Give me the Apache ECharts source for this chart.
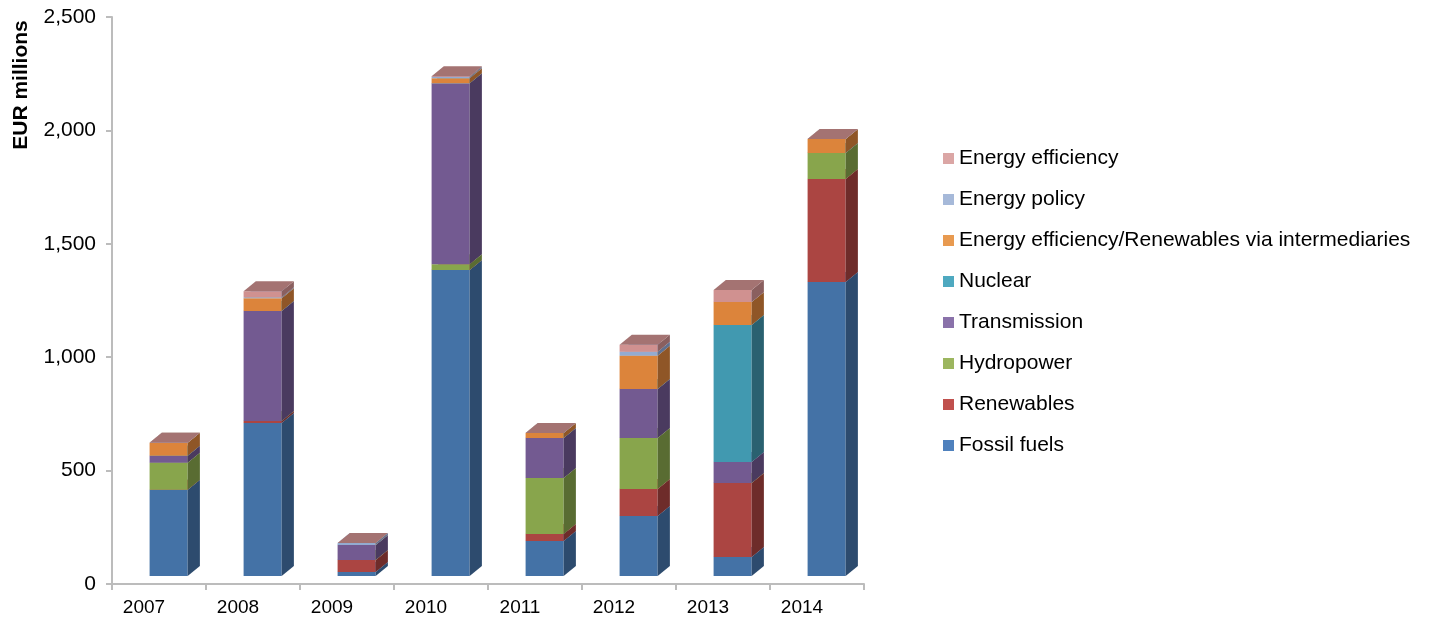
<!DOCTYPE html>
<html>
<head>
<meta charset="utf-8">
<script src="https://cdn.jsdelivr.net/npm/echarts@6/dist/echarts.min.js"></script>
<style>
html,body{margin:0;padding:0;background:#fff;}
#chart{width:1437px;height:623px;}
</style>
</head>
<body>
<div id="chart"></div>
<script>
// ---- Data (EUR millions) ----
const categories = ['2007','2008','2009','2010','2011','2012','2013','2014'];
const fossilFuels     = [380, 675, 18, 1349, 154, 265, 84, 1296];
const renewables      = [0, 8, 53, 0, 31, 119, 326, 454];
const hydropower      = [119, 0, 0, 26, 247, 225, 0, 115];
const transmission    = [31, 485, 66, 798, 176, 216, 93, 0];
const nuclear         = [0, 0, 0, 0, 0, 0, 604, 0];
const eeRenewIntermed = [57, 57, 0, 22, 22, 146, 101, 62];
const energyPolicy    = [0, 4, 9, 5, 0, 18, 0, 0];
const energyEff       = [0, 26, 0, 4, 0, 31, 53, 0];
const yTicks = [0, 500, 1000, 1500, 2000, 2500];

const seriesDefs = [
  {name:'Fossil fuels', data:fossilFuels, legend:'#4f81bd', front:'#4472a6', side:'#2d4b6e', top:'#5a86bb'},
  {name:'Renewables', data:renewables, legend:'#c0504d', front:'#ab4542', side:'#6e2c2a', top:'#c05a57'},
  {name:'Hydropower', data:hydropower, legend:'#9cb65f', front:'#88a54c', side:'#596c32', top:'#9dbb5e'},
  {name:'Transmission', data:transmission, legend:'#8a72aa', front:'#735a91', side:'#4a3a5f', top:'#8770a5'},
  {name:'Nuclear', data:nuclear, legend:'#4ea9c0', front:'#4199b0', side:'#2a6170', top:'#56aec5'},
  {name:'Energy efficiency/Renewables via intermediaries', data:eeRenewIntermed, legend:'#e89a50', front:'#dc843b', side:'#8f5627', top:'#e99a55'},
  {name:'Energy policy', data:energyPolicy, legend:'#a6b9d9', front:'#93abd1', side:'#5f7090', top:'#a7bde0'},
  {name:'Energy efficiency', data:energyEff, legend:'#dba6a5', front:'#d09190', side:'#8a5f5f', top:'#a47372'}
];

const FONT = '"Liberation Sans", Arial, sans-serif';
const base = categories.map(() => 0);

function makeRender(def) {
  return function (params, api) {
    const i = api.value(0), b = api.value(1), t = api.value(2);
    const band = api.size([1, 0])[0];
    const p0 = api.coord([i, b]);
    const p1 = api.coord([i, t]);
    const w = band * 0.405;
    const L = p0[0] - band * 0.1;
    const R = L + w;
    const lift = 8;
    const yB = p0[1] - lift, yT = p1[1] - lift;
    const dx = band * 0.13, dy = 10;
    const children = [];
    if (yB - yT > 0.01) {
      children.push({type:'rect', shape:{x:L, y:yT, width:w, height:yB - yT}, style:{fill:def.front}});
      children.push({type:'polygon', shape:{points:[[R,yB],[R+dx,yB-dy],[R+dx,yT-dy],[R,yT]]}, style:{fill:def.side}});
    }
    children.push({type:'polygon', shape:{points:[[L,yT],[L+dx,yT-dy],[R+dx,yT-dy],[R,yT]]}, style:{fill:def.top}});
    return {type:'group', children};
  };
}

const series = seriesDefs.map(def => {
  const data = def.data.map((v, i) => {
    const item = [i, base[i], base[i] + v];
    base[i] += v;
    return item;
  });
  return {
    type:'custom', name:def.name, data, clip:false,
    encode:{x:0, y:[1,2]},
    itemStyle:{color:def.legend},
    renderItem: makeRender(def)
  };
});

const chart = echarts.init(document.getElementById('chart'));
chart.setOption({
  animation:false,
  backgroundColor:'#fff',
  textStyle:{fontFamily:FONT},
  grid:{left:112, right:573, top:17, bottom:39, containLabel:false},
  xAxis:{
    type:'category', data:categories, boundaryGap:true,
    axisLine:{lineStyle:{color:'#bcbcbc', width:2}},
    axisTick:{show:true, length:6, lineStyle:{color:'#bcbcbc', width:2}},
    axisLabel:{color:'#000', fontSize:19, fontFamily:FONT, margin:14, padding:[0,30,0,0]},
    splitLine:{show:false}
  },
  yAxis:{
    type:'value', min:yTicks[0], max:yTicks[yTicks.length-1], interval:500,
    axisLine:{show:true, lineStyle:{color:'#bcbcbc', width:2}},
    axisTick:{show:true, length:6, lineStyle:{color:'#bcbcbc', width:2}},
    axisLabel:{color:'#000', fontSize:21, fontFamily:FONT, margin:16,
      formatter: v => v.toLocaleString('en-US')},
    splitLine:{show:false}
  },
  legend:{
    orient:'vertical', left:943, top:148, padding:0,
    data: seriesDefs.map(d => d.name).reverse(),
    icon:'rect', itemWidth:11, itemHeight:11, itemGap:20,
    textStyle:{color:'#000', fontSize:21, lineHeight:21, fontFamily:FONT},
    selectedMode:false
  },
  graphic:[{
    type:'text', x:21, y:85, rotation:Math.PI/2,
    style:{text:'EUR millions', fill:'#000', font:'bold 21px ' + FONT, align:'center', verticalAlign:'middle'}
  }],
  series
});
</script>
</body>
</html>
